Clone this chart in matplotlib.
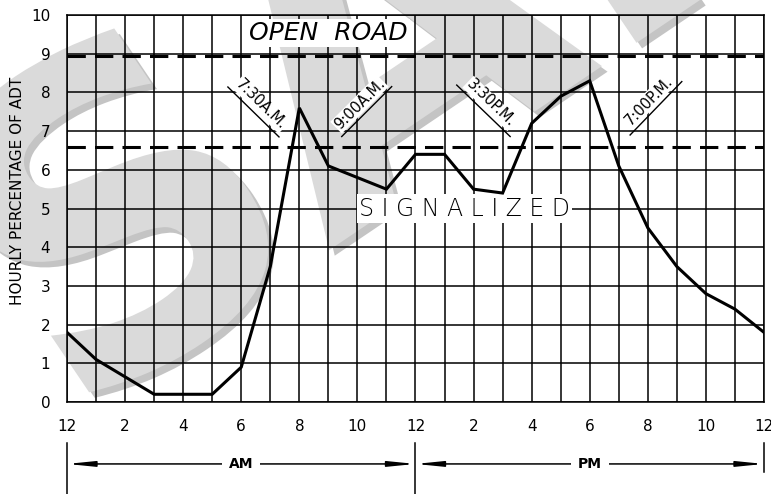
import numpy as np
import matplotlib
matplotlib.use("Agg")
import matplotlib.pyplot as plt
import matplotlib.patheffects as pe

# hourly share of ADT, midnight to midnight
hours = list(range(25))
pct_adt = [1.8, 1.1, 0.65, 0.2, 0.2, 0.2, 0.9, 3.5, 7.6, 6.1, 5.8, 5.5, 6.4,
           6.4, 5.5, 5.4, 7.2, 7.9, 8.3, 6.1, 4.5, 3.5, 2.8, 2.4, 1.8]
hour_labels = ['12', '2', '4', '6', '8', '10', '12', '2', '4', '6', '8', '10', '12']

open_road_level = 8.95
signalized_level = 6.6

# peak-hour callouts: text and underline ends (hour, pct)
peak_text = ['7:30A.M.', '9:00A.M.', '3:30P.M.', '7:00P.M.']
peak_start = [(5.54, 8.14), (9.46, 6.86), (13.42, 8.19), (19.39, 6.90)]
peak_end = [(7.30, 6.85), (11.18, 8.15), (15.26, 6.86), (21.17, 8.28)]

periods = ['AM', 'PM']
period_edges = [0, 12, 24]

fig = plt.figure(figsize=(7.71, 4.94), dpi=100)
ax = fig.add_axes([0.0869, 0.1862, 0.904, 0.7834])
ax.set_facecolor('none')

# watermark behind everything
fig.text(0.005, 0.34, 'SAMPLE', fontsize=310, fontweight='bold', color='#dadada',
         rotation=34, ha='left', va='center', zorder=-1, rotation_mode='anchor',
         path_effects=[pe.SimplePatchShadow(offset=(4, -4), shadow_rgbFace='#c4c4c4', alpha=1),
                       pe.Normal()])

ax.plot(hours, pct_adt, color='black', lw=2.2, zorder=5, solid_joinstyle='miter')
ax.axhline(open_road_level, color='black', lw=2.2, dashes=(6, 3), zorder=4)
ax.axhline(signalized_level, color='black', lw=2.2, dashes=(6, 3), zorder=4)

ax.set_xlim(0, 24)
ax.set_ylim(0, 10)
ax.set_xticks(hours)
ax.set_xticklabels([hour_labels[i // 2] if i % 2 == 0 else '' for i in hours], fontsize=11)
ax.set_yticks(range(11))
ax.set_yticklabels([str(v) for v in range(11)], fontsize=11)
ax.tick_params(length=0)
ax.tick_params(axis='x', pad=12)
ax.tick_params(axis='y', pad=12)
ax.grid(True, color='black', lw=1.1, zorder=1)
ax.set_axisbelow(True)
for s in ax.spines.values():
    s.set_linewidth(1.1)

ax.set_ylabel('HOURLY PERCENTAGE OF ADT', fontsize=11)
ax.yaxis.set_label_coords(-0.060, 0.545)

box = dict(facecolor='white', edgecolor='none', pad=1.5)
ax.text(9.0, 9.53, 'OPEN  ROAD', fontsize=18, style='italic', color='black',
        family='DejaVu Sans', fontweight='light', ha='center', va='center',
        zorder=3, bbox=box)
ax.text(13.7, 5.0, 'S I G N A L I Z E D', fontsize=17, color='black',
        family='DejaVu Sans', fontweight='light', ha='center', va='center',
        zorder=3, bbox=box)

# rotated callouts with underline
for txt, p0, p1 in zip(peak_text, peak_start, peak_end):
    d0 = ax.transData.transform(p0)
    d1 = ax.transData.transform(p1)
    ang = np.degrees(np.arctan2(d1[1] - d0[1], d1[0] - d0[0]))
    ax.plot([p0[0], p1[0]], [p0[1], p1[1]], color='black', lw=1.0, zorder=6)
    mx, my = (p0[0] + p1[0]) / 2, (p0[1] + p1[1]) / 2
    nrm = np.radians(ang + 90)
    ax.annotate(txt, (mx, my), xytext=(2 * np.cos(nrm), 2 * np.sin(nrm)),
                textcoords='offset points', rotation=ang, rotation_mode='anchor',
                ha='center', va='bottom', fontsize=10.5, zorder=6,
                bbox=dict(facecolor='white', edgecolor='none', pad=0.5))

# AM / PM span arrows under the axis
xt = ax.get_xaxis_transform()
for e in period_edges:
    bot = -0.238 if e < 24 else -0.18
    ax.plot([e, e], [-0.106, bot], color='black', lw=1.1, transform=xt, clip_on=False)
for i, name in enumerate(periods):
    a, b = period_edges[i], period_edges[i + 1]
    ax.annotate('', xy=(a, -0.16), xytext=(b, -0.16), xycoords=xt, textcoords=xt,
                arrowprops=dict(arrowstyle='<|-|>,head_length=1.6,head_width=0.16',
                                color='black', lw=1.1, shrinkA=0, shrinkB=0))
    ax.text((a + b) / 2, -0.16, name, transform=xt, fontsize=10, fontweight='bold',
            ha='center', va='center',
            bbox=dict(facecolor='white', edgecolor='none', pad=5))

fig.savefig('out.png', dpi=100)
